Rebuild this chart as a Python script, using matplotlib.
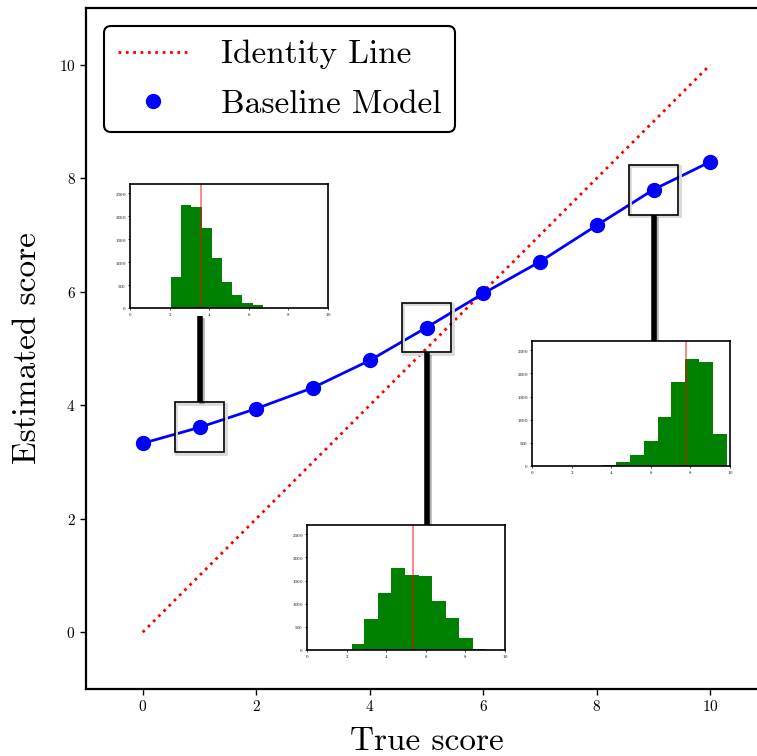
import numpy as np
import matplotlib
matplotlib.use("Agg")
import matplotlib.pyplot as plt
import matplotlib.patheffects as pe
from matplotlib.patches import Rectangle

plt.rcParams['font.family'] = 'serif'
plt.rcParams['font.serif'] = ['cmr10', 'DejaVu Serif']
plt.rcParams['mathtext.fontset'] = 'cm'
plt.rcParams['axes.formatter.use_mathtext'] = True

# main data
true_score = [0, 1, 2, 3, 4, 5, 6, 7, 8, 9, 10]
est_score = [3.33, 3.61, 3.94, 4.31, 4.79, 5.37, 5.97, 6.53, 7.17, 7.80, 8.29]

# histograms of estimates for three selected true scores
hist_idx = [1, 5, 9]
hist_edges = [
    [2.07, 2.58, 3.10, 3.62, 4.13, 4.65, 5.17, 5.68, 6.20, 6.72, 7.23],
    [2.25, 2.90, 3.61, 4.26, 4.97, 5.67, 6.33, 7.01, 7.68, 8.37, 9.04],
    [2.82, 3.52, 4.25, 4.96, 5.66, 6.34, 7.03, 7.73, 8.44, 9.14, 9.83],
]
hist_counts = [
    [672, 2232, 2189, 1734, 1084, 563, 282, 108, 65, 10],
    [123, 665, 1228, 1770, 1618, 1597, 1055, 686, 253, 29],
    [3, 15, 80, 240, 538, 1061, 1824, 2304, 2238, 690],
]

W, H = 757, 756
fig = plt.figure(figsize=(W / 100, H / 100), dpi=100)

def fbox(x0, y0, x1, y1):
    # pixel box -> figure fraction
    return [x0 / W, 1 - y1 / H, (x1 - x0) / W, (y1 - y0) / H]

ax = fig.add_axes(fbox(86, 8, 767, 689))
ax.set_xlim(-1, 11)
ax.set_ylim(-1, 11)

ax.plot([0, 10], [0, 10], color='red', linestyle=':', linewidth=2, label='Identity Line')
ax.plot(true_score, est_score, color='blue', linewidth=2, zorder=3)
ax.plot(true_score, est_score, 'o', color='blue', markersize=10, label='Baseline Model', zorder=4)

ax.set_xticks([0, 2, 4, 6, 8, 10])
ax.set_yticks([0, 2, 4, 6, 8, 10])
ax.tick_params(labelsize=11, width=1, length=4)
for s in ax.spines.values():
    s.set_linewidth(1.6)
ax.set_xlabel('True score', fontsize=24, labelpad=9)
ax.set_ylabel('Estimated score', fontsize=24, labelpad=12)

leg = ax.legend(loc='upper left', fontsize=24, frameon=True, fancybox=True,
                edgecolor='black', framealpha=1, handlelength=2.1, labelspacing=0.6,
                handletextpad=1.0, borderaxespad=0.55)
leg.get_frame().set_linewidth(1.5)

# inset positions in pixels (left, top, right, bottom)
inset_px = [(130, 184, 328, 308), (307, 525, 505, 650), (532, 341, 730, 466)]
shadow = [pe.SimpleLineShadow(offset=(1.5, -1.5), alpha=0.3), pe.Normal()]
box = 0.88
inv = ax.transData.inverted()
for k, i in enumerate(hist_idx):
    xc, yc = true_score[i], est_score[i]
    # faint shadow outline, then the box itself
    ax.add_patch(Rectangle((xc - box / 2 + 0.03, yc - box / 2 - 0.03), box, box, fill=False,
                           edgecolor='0.85', linewidth=2, zorder=4.5))
    ax.add_patch(Rectangle((xc - box / 2, yc - box / 2), box, box, fill=False,
                           edgecolor='black', linewidth=1.2, zorder=5))

    x0, y0, x1, y1 = inset_px[k]
    iax = fig.add_axes(fbox(x0, y0, x1, y1))
    e = hist_edges[k]
    iax.hist(e[:-1], bins=e, weights=hist_counts[k], color='green')
    iax.axvline(yc, color='red', linewidth=1.2, alpha=0.55)
    iax.set_xlim(0, 10)
    iax.set_ylim(0, 2700)
    iax.set_xticks([0, 2, 4, 6, 8, 10])
    iax.set_yticks([0, 500, 1000, 1500, 2000, 2500])
    iax.tick_params(labelsize=3.5, length=1.5, width=0.5, pad=1)
    for s in iax.spines.values():
        s.set_linewidth(1.2)

    # connector from the box to the inset
    if k == 0:
        yend = inv.transform((0, H - y1 - 8))[1]
        ystart = yc + box / 2
    else:
        yend = inv.transform((0, H - y0))[1]
        ystart = yc - box / 2
    ax.plot([xc, xc], [ystart, yend], color='black', linewidth=4,
            solid_capstyle='butt', path_effects=shadow, zorder=6, clip_on=False)

fig.savefig('out.png', dpi=100)
